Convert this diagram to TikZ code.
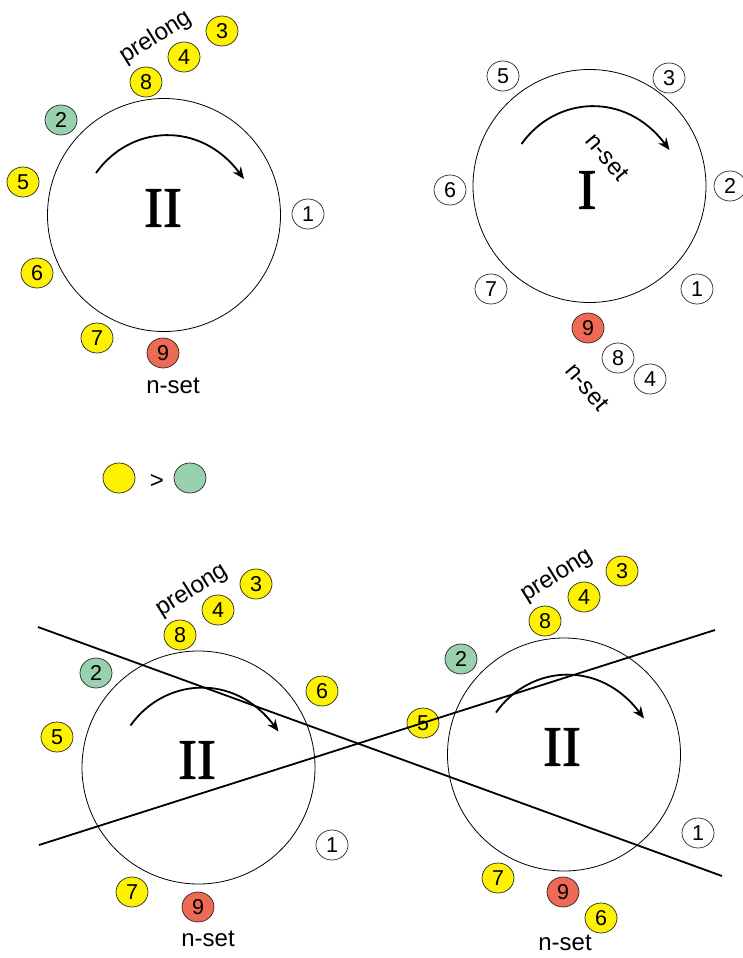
\documentclass[tikz,border=0pt]{standalone}
\usepackage{fontspec}
\setmainfont{Liberation Sans}
\newfontfamily\serifroman[FakeBold=1.6]{Liberation Serif}
\usetikzlibrary{shapes.geometric,arrows.meta}
\definecolor{cYel}{RGB}{255,242,0}
\definecolor{cGrn}{RGB}{153,208,174}
\definecolor{cRed}{RGB}{239,106,85}
\begin{document}
\begin{tikzpicture}[x=1pt,y=-1pt,
  num/.style={ellipse,draw=black!85,line width=0.7pt,minimum width=32pt,minimum height=30pt,inner sep=0pt,font=\fontsize{21.5}{21.5}\selectfont},
  yel/.style={num,fill=cYel},
  grn/.style={num,fill=cGrn},
  rd/.style={num,fill=cRed},
  wht/.style={num,fill=white},
  bigc/.style={circle,draw,line width=0.8pt,minimum size=233pt,inner sep=0pt},
  roman/.style={font=\serifroman\fontsize{57}{57}\selectfont,inner sep=0pt},
  lbl/.style={font=\fontsize{24}{24}\selectfont,inner sep=0pt},
  arr/.style={line width=1.8pt,-{Stealth[length=12pt,width=10pt]}},
  cross/.style={line width=1.8pt},
  rotarrow/.pic={\draw[arr] (-68,-42) .. controls (-34,-90) and (36,-95) .. (80,-36);}
]
\useasboundingbox (0,0) rectangle (743,958);

% ---------- top left ----------
\node[bigc] (C1) at (164,215) {};
\pic at (C1.center) {rotarrow};
\node[roman] (R1) at (163,208) {II};
\node[yel] (a3) at (222,31) {3};
\node[yel] (a4) at (184,57) {4};
\node[yel] (a8) at (146,82) {8};
\node[grn] (a2) at (61,120) {2};
\node[yel] (a5) at (23,182) {5};
\node[yel] (a6) at (37,273) {6};
\node[yel] (a7) at (97,338) {7};
\node[rd]  (a9) at (163,353) {9};
\node[wht] (a1) at (308,214) {1};
\node[lbl,rotate=32] (aP) at (156,37) {prelong};
\node[lbl] (aN) at (173,386) {n-set};

% ---------- top right ----------
\node[bigc] (C2) at (589.5,186) {};
\pic at (C2.center) {rotarrow};
\node[roman] (R2) at (587,190) {I};
\node[lbl,rotate=-50] (bN1) at (607,157) {n-set};
\node[wht] (b5) at (503,76) {5};
\node[wht] (b3) at (669,78) {3};
\node[wht] (b6) at (450,190) {6};
\node[wht] (b2) at (730,186) {2};
\node[wht] (b7) at (491,289) {7};
\node[wht] (b1) at (697,289) {1};
\node[rd]  (b9) at (588,328) {9};
\node[wht] (b8) at (618,358) {8};
\node[wht] (b4) at (650,379) {4};
\node[lbl,rotate=-50] (bN2) at (587,387) {n-set};

% ---------- legend ----------
\node[num,fill=cYel] (lY) at (119,478) {};
\node[lbl] (lG) at (157,481) {>};
\node[num,fill=cGrn] (lC) at (190,478) {};

% ---------- bottom left ----------
\node[bigc] (C3) at (198.5,767.5) {};
\pic at (C3.center) {rotarrow};
\node[roman] (R3) at (197,760) {II};
\node[yel] (c3) at (256,584) {3};
\node[yel] (c4) at (218,610) {4};
\node[yel] (c8) at (180,635) {8};
\node[grn] (c2) at (96,673) {2};
\node[yel] (c6) at (322,691) {6};
\node[yel] (c5) at (57,737) {5};
\node[wht] (c1) at (332,845) {1};
\node[yel] (c7) at (132,892) {7};
\node[rd]  (c9) at (198,907) {9};
\node[lbl] (cN) at (208,939) {n-set};
\node[lbl,rotate=32] (cP) at (192,590) {prelong};

% ---------- bottom right ----------
\node[bigc] (C4) at (564,754.5) {};
\pic at (C4.center) {rotarrow};
\node[roman] (R4) at (562,747) {II};
\node[yel] (d3) at (622,571) {3};
\node[yel] (d4) at (584,597) {4};
\node[yel] (d8) at (545,621) {8};
\node[grn] (d2) at (461,659) {2};
\node[yel] (d5) at (423,723) {5};
\node[wht] (d1) at (698,833) {1};
\node[yel] (d7) at (498,878) {7};
\node[rd]  (d9) at (563,892) {9};
\node[yel] (d6) at (601,918) {6};
\node[lbl] (dN) at (565,943) {n-set};
\node[lbl,rotate=32] (dP) at (557,575) {prelong};

% ---------- crossing lines ----------
\coordinate (lA1) at (38,627);
\coordinate (lA2) at (722,876);
\coordinate (lB1) at (39,845);
\coordinate (lB2) at (715,630);
\draw[cross] (lA1) -- (lA2);
\draw[cross] (lB1) -- (lB2);
\end{tikzpicture}
\end{document}
